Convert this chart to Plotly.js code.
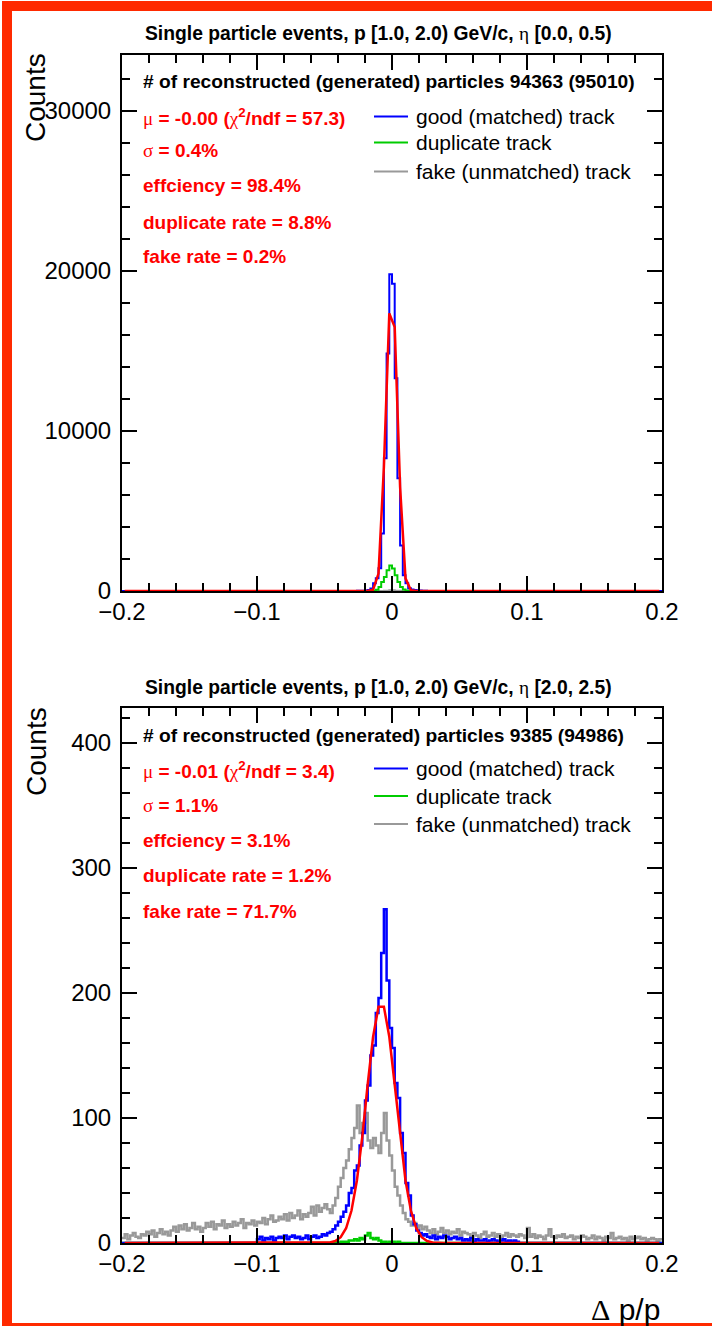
<!DOCTYPE html>
<html>
<head>
<meta charset="utf-8">
<script src="https://cdn.plot.ly/plotly-3.0.1.min.js"></script>
<style>
html,body{margin:0;padding:0;background:#fff;}
#chart{width:712px;height:1326px;}
</style>
</head>
<body>
<div id="chart"></div>
<script>
// ---------------- binning ----------------
const HIST_MIN = -0.2, HIST_BIN = 0.002, HIST_NBINS = 200;   // histograms
const FIT_BIN = 0.004, FIT_NPTS = 100;                        // fit function sampling

// ---------------- ticks ----------------
const xRange = [-0.2, 0.2];
const xMajor = 0.1, xMinor = 0.02;
const y1Range = [0, 33500], y1Major = 10000, y1Minor = 2000;
const y2Range = [0, 428], y2Major = 100, y2Minor = 20;

// ---------------- panel 1 : eta [0.0, 0.5) ----------------
// each "Start" is the centre of the first listed bin; all other bins are empty
const p1GoodStart = -0.027;
const p1Good = [5,10,15,20,35,60,150,480,790,1420,3600,8290,14850,19800,19210,13290,7040,2850,980,480,170,90,60,40,30,20,10,5];
const p1DupStart = -0.013;
const p1Dup = [20,80,250,560,880,1290,1600,1400,980,560,250,90,30];
const p1FakeStart = -0.007;
const p1Fake = [4,8,20,45,40,22,10,5];
const p1FitStart = -0.018;
const p1Fit = [1,80,1090,7750,17350,16500,6500,790,50,0];

// ---------------- panel 2 : eta [2.0, 2.5) ----------------
const p2GoodStart = -0.099;
const p2Good = [3,5,2,4,3,5,2,4,
  5,4,6,3,5,6,4,5,3,
  4,6,3,5,6,4,5,
  7,6,8,9,
  11,14,17,21,25,30,40,44,58,62,78,88,114,126,150,158,184,196,232,267,210,172,156,128,116,88,72,48,38,22,15,10,8,6,7,
  5,4,6,3,5,4,6,5,3,4,5,3,4,
  2,3,2,4,1,3,2,2,3,1,2,3,2,1,2,3,1,2,1,2,1];
const p2DupStart = -0.041;
const p2Dup = [1,0,1,1,1,2,2,3,2,4,3,6,8,4,3,4,2,1,1,0,1,1,0,1];
const p2FakeStart = -0.199;
const p2Fake = [4,7,3,6,8,5,4,7,
  6,9,7,10,5,8,11,7,9,6,
  10,13,9,14,11,15,10,12,16,11,13,9,
  12,16,13,17,11,15,14,18,12,15,
  13,17,14,16,19,12,16,15,18,14,17,
  16,20,15,19,22,17,18,21,
  19,23,18,24,20,22,26,19,23,21,
  24,29,22,30,25,28,31,
  27,24,30,36,
  45,52,60,66,75,84,92,110,88,96,104,82,76,84,78,72,88,104,82,70,
  58,45,38,30,24,19,17,14,16,12,14,11,13,
  10,8,11,7,9,12,8,10,7,9,8,11,6,9,8,
  7,5,8,6,4,7,9,5,6,8,5,7,4,6,8,5,7,6,5,7,
  6,4,12,5,7,4,6,5,3,6,11,5,4,6,5,7,4,5,6,3,5,4,6,
  5,3,4,6,3,5,4,2,5,4,8,3,4,5,3,4,2,5,3,4,5,3,4,2,3,4,3,2,3];
const p2FitStart = -0.050;
const p2Fit = [0.1,0.5,1.6,4.6,11.8,26,50,85,127,165,189,189,165,127,85,50,26,11.8,4.6,1.6,0.5,0.1];

// ---------------- texts ----------------
const GREEK = "font-family:Liberation Serif;font-weight:normal";
const gk = s => `<span style="${GREEK}">${s}</span>`;
const p1Title = `Single particle events, p [1.0, 2.0) GeV/c, ${gk("\u03b7")} [0.0, 0.5)`;
const p2Title = `Single particle events, p [1.0, 2.0) GeV/c, ${gk("\u03b7")} [2.0, 2.5)`;
const p1Count = "# of reconstructed (generated) particles 94363 (95010)";
const p2Count = "# of reconstructed (generated) particles 9385 (94986)";
const p1Stats = [`${gk("\u03bc")} = -0.00 (${gk("\u03c7")}<sup>2</sup>/ndf = 57.3)`, `${gk("\u03c3")} = 0.4%`,
  "effciency = 98.4%", "duplicate rate = 8.8%", "fake rate = 0.2%"];
const p2Stats = [`${gk("\u03bc")} = -0.01 (${gk("\u03c7")}<sup>2</sup>/ndf = 3.4)`, `${gk("\u03c3")} = 1.1%`,
  "effciency = 3.1%", "duplicate rate = 1.2%", "fake rate = 71.7%"];
const legendLabels = ["good (matched) track", "duplicate track", "fake (unmatched) track"];
const yTitle = "Counts";
const xTitle = `${gk("\u0394")} p/p`;

const COL_GOOD = "#0000ff", COL_DUP = "#00cc00", COL_FAKE = "#999999", COL_FIT = "#ff0000";

// ---------------- helpers ----------------
function fullSeries(start, vals, lo, width, n) {
  const out = new Array(n).fill(0);
  const i0 = Math.round((start - lo - width / 2) / width);
  vals.forEach((v, k) => { out[i0 + k] = v; });
  return out;
}
function histTrace(start, vals, color, xa, ya, w) {
  const full = fullSeries(start, vals, HIST_MIN, HIST_BIN, HIST_NBINS);
  const x = [], y = [];
  for (let i = 0; i <= HIST_NBINS; i++) {
    x.push(HIST_MIN + i * HIST_BIN);
    y.push(full[Math.min(i, HIST_NBINS - 1)]);
  }
  return {type: "scatter", mode: "lines", x, y, xaxis: xa, yaxis: ya,
    line: {color, width: w, shape: "hv"}, hoverinfo: "skip", showlegend: false};
}
function fitTrace(start, vals, xa, ya) {
  const full = fullSeries(start, vals, HIST_MIN, FIT_BIN, FIT_NPTS);
  const x = full.map((_, i) => HIST_MIN + (i + 0.5) * FIT_BIN);
  return {type: "scatter", mode: "lines", x, y: full, xaxis: xa, yaxis: ya,
    line: {color: COL_FIT, width: 2.5}, hoverinfo: "skip", showlegend: false};
}

const W = 712, H = 1326;
const px = v => v / W;
const py = v => 1 - v / H;

const data = [
  histTrace(p1FakeStart, p1Fake, COL_FAKE, "x", "y", 2),
  histTrace(p1DupStart, p1Dup, COL_DUP, "x", "y", 2),
  histTrace(p1GoodStart, p1Good, COL_GOOD, "x", "y", 2),
  fitTrace(p1FitStart, p1Fit, "x", "y"),
  histTrace(p2FakeStart, p2Fake, COL_FAKE, "x2", "y2", 2.5),
  histTrace(p2DupStart, p2Dup, COL_DUP, "x2", "y2", 2.5),
  histTrace(p2GoodStart, p2Good, COL_GOOD, "x2", "y2", 2.5),
  fitTrace(p2FitStart, p2Fit, "x2", "y2")
];

const FONT = "Liberation Sans, Arial, sans-serif";
function xAxis(anchor) {
  return {domain: [px(122), px(662)], anchor, range: xRange,
    tickmode: "linear", tick0: xRange[0], dtick: xMajor,
    ticks: "inside", ticklen: 15, tickwidth: 1.5, tickcolor: "#000",
    minor: {dtick: xMinor, tick0: xRange[0], ticks: "inside", ticklen: 8, tickwidth: 1.5, tickcolor: "#000"},
    showline: true, linecolor: "#000", linewidth: 2, mirror: "allticks",
    showgrid: false, zeroline: false, ticklabelstandoff: -2,
    tickfont: {family: FONT, size: 24, color: "#000"}, fixedrange: true};
}
function yAxis(anchor, dom, range, major, minor) {
  return {domain: dom, anchor, range,
    tickmode: "linear", tick0: 0, dtick: major, tickformat: "d",
    ticks: "inside", ticklen: 15, tickwidth: 1.5, tickcolor: "#000",
    minor: {dtick: minor, tick0: 0, ticks: "inside", ticklen: 8, tickwidth: 1.5, tickcolor: "#000"},
    showline: true, linecolor: "#000", linewidth: 2, mirror: "allticks",
    showgrid: false, zeroline: false, ticklabelstandoff: 4,
    tickfont: {family: FONT, size: 24, color: "#000"}, fixedrange: true};
}

const annotations = [];
const shapes = [];
function ann(text, x, y, opts) {
  annotations.push(Object.assign({text, xref: "paper", yref: "paper", x: px(x), y: py(y),
    showarrow: false, xanchor: "left", yanchor: "middle"}, opts));
}
function panelText(title, count, stats, titleY, countY, statY0, legY) {
  ann(title, 378.5, titleY, {xanchor: "center", font: {family: FONT, size: 19.3, color: "#000", weight: "bold"}});
  ann(count, 141, countY, {font: {family: FONT, size: 19.2, color: "#000", weight: "bold"}});
  stats.forEach((s, i) => ann(s, 141, statY0[i], {font: {family: FONT, size: 19, color: COL_FIT, weight: "bold"}}));
  const cols = [COL_GOOD, COL_DUP, COL_FAKE];
  legendLabels.forEach((l, i) => {
    shapes.push({type: "line", xref: "paper", yref: "paper", x0: px(374), x1: px(408), y0: py(legY[i]), y1: py(legY[i]),
      line: {color: cols[i], width: 2}});
    ann(l, 414, legY[i], {font: {family: FONT, size: 21, color: "#000"}});
  });
}
panelText(p1Title, p1Count, p1Stats, 33, 81.5, [116.5, 150, 186, 222.5, 256.5], [116.5, 142.5, 171.5]);
panelText(p2Title, p2Count, p2Stats, 687, 735, [770, 805.5, 840, 875.5, 911], [768.5, 796, 824]);

// axis titles (ROOT style: right-aligned at the axis end)
ann(yTitle, 36, 98, {xanchor: "center", textangle: -90, font: {family: FONT, size: 28, color: "#000"}});
ann(yTitle, 36, 752, {xanchor: "center", textangle: -90, font: {family: FONT, size: 28, color: "#000"}});
ann(xTitle, 662, 1309, {xanchor: "right", font: {family: FONT, size: 30, color: "#000"}});

// red canvas border
shapes.push({type: "rect", xref: "paper", yref: "paper", x0: px(7), x1: px(740), y0: py(6), y1: py(1328),
  line: {color: "#ff2a00", width: 10}, fillcolor: "rgba(0,0,0,0)", layer: "above"});

const layout = {
  width: W, height: H,
  margin: {l: 0, r: 0, t: 0, b: 0, pad: 0},
  paper_bgcolor: "#fff", plot_bgcolor: "#fff",
  showlegend: false,
  xaxis: xAxis("y"),
  yaxis: yAxis("x", [py(591), py(55)], y1Range, y1Major, y1Minor),
  xaxis2: xAxis("y2"),
  yaxis2: yAxis("x2", [py(1243), py(708)], y2Range, y2Major, y2Minor),
  annotations, shapes
};

Plotly.newPlot("chart", data, layout, {staticPlot: true, displayModeBar: false});
</script>
</body>
</html>
